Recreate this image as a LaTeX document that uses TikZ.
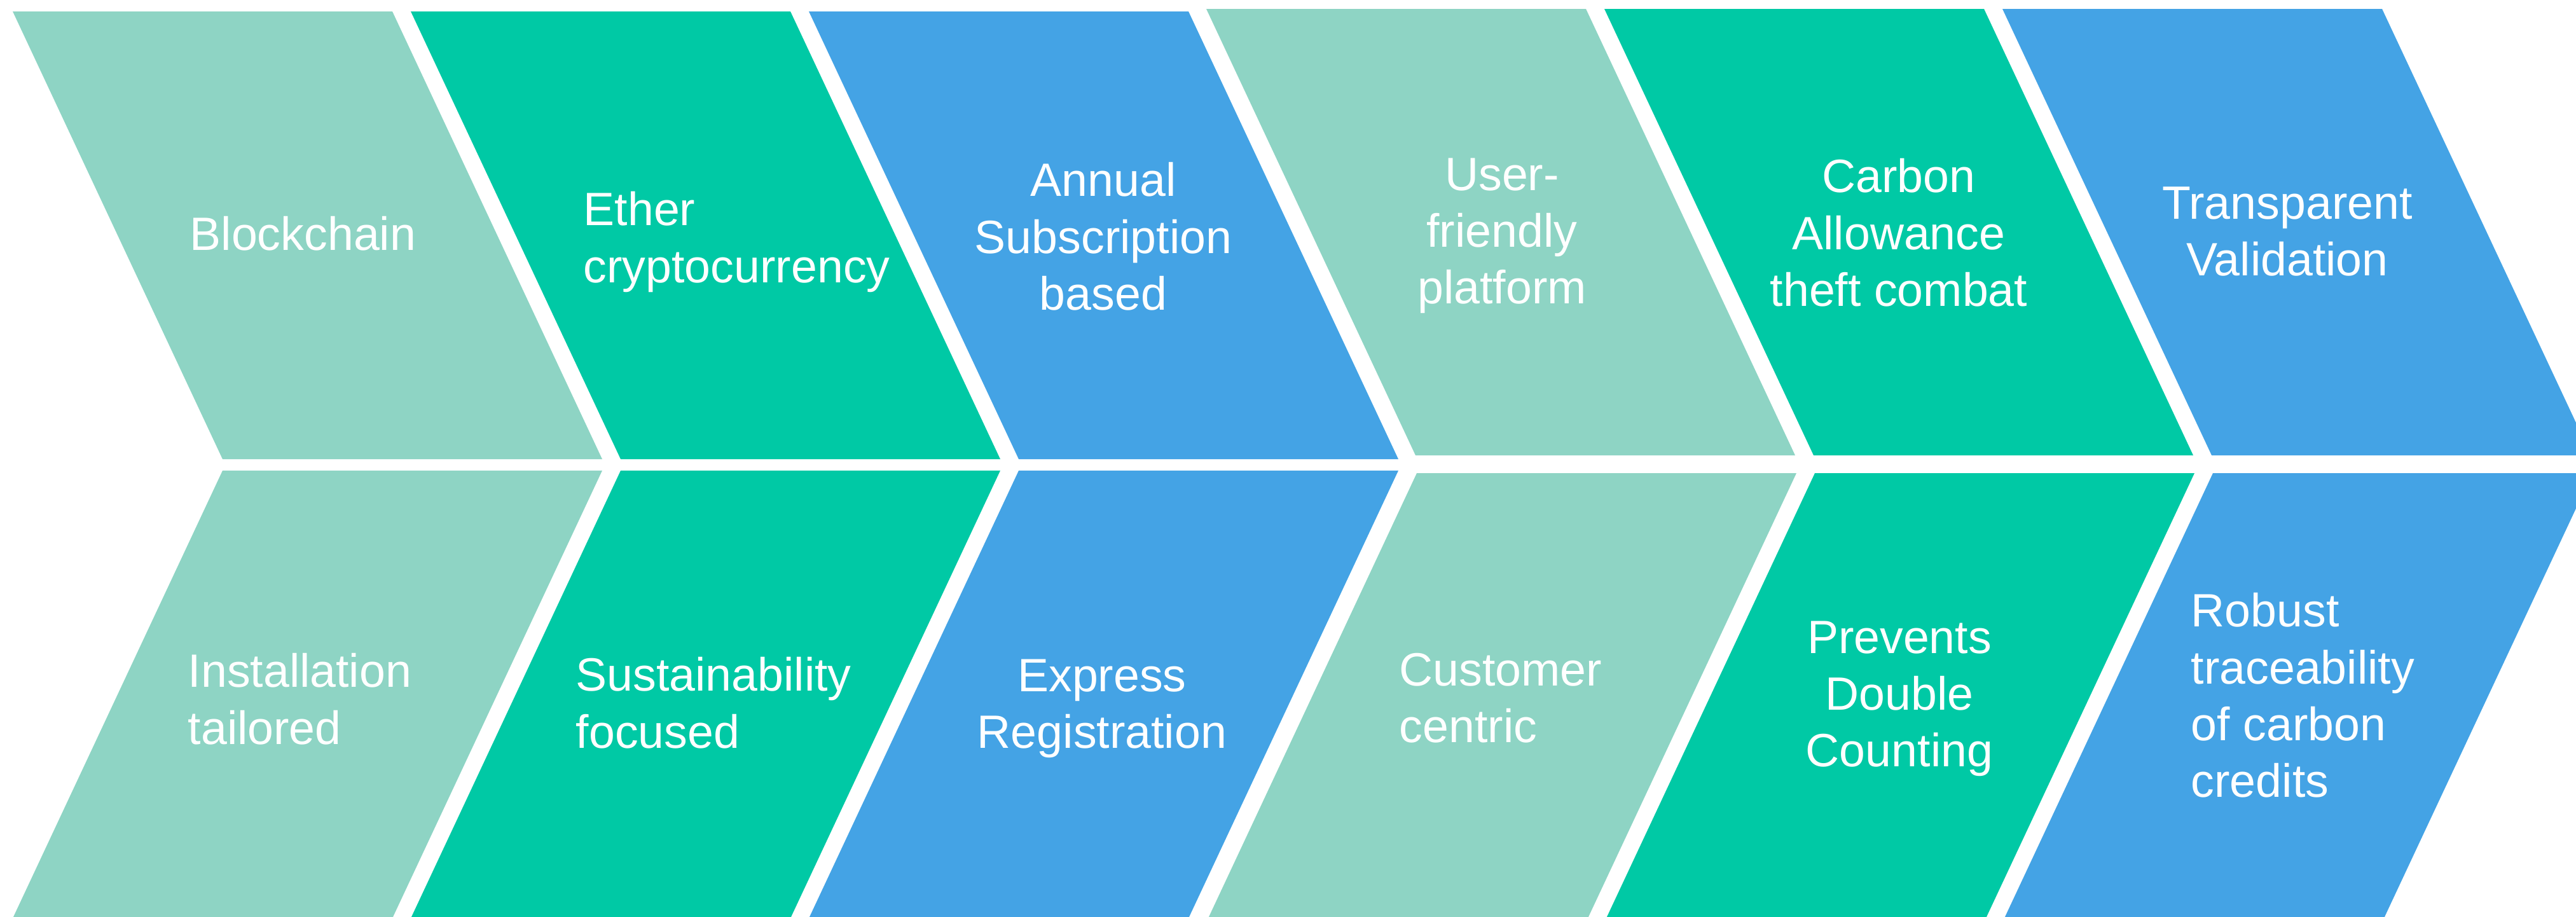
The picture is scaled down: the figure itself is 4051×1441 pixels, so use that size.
\documentclass[tikz,border=0pt]{standalone}
\usepackage{fontspec}
\setmainfont{Liberation Sans}

\definecolor{mint}{RGB}{142,212,196}
\definecolor{jade}{RGB}{0,201,165}
\definecolor{sky}{RGB}{68,163,229}

\begin{document}
\begin{tikzpicture}[x=0.01cm,y=-0.01cm,
		txt/.style={text=white,inner sep=0pt,font=\fontsize{20.9}{25.4}\selectfont}]

		\useasboundingbox (0,0) rectangle (4051,1441);
		\clip (0,0) rectangle (4051,1441);

		% upper row
		\fill[mint] (20,18) -- ++(597,0) -- ++(330,704) -- ++(-597,0) -- cycle;
		\fill[jade] (646,18) -- ++(597,0) -- ++(330,704) -- ++(-597,0) -- cycle;
		\fill[sky] (1272,18) -- ++(597,0) -- ++(330,704) -- ++(-597,0) -- cycle;
		\fill[mint] (1897,14) -- ++(597,0) -- ++(329,702) -- ++(-597,0) -- cycle;
		\fill[jade] (2523,14) -- ++(597,0) -- ++(329,702) -- ++(-597,0) -- cycle;
		\fill[sky] (3149,14) -- ++(597,0) -- ++(329,702) -- ++(-597,0) -- cycle;

		% lower row
		\fill[mint] (350,740) -- ++(597,0) -- ++(-330,704) -- ++(-597,0) -- cycle;
		\fill[jade] (976,740) -- ++(597,0) -- ++(-330,704) -- ++(-597,0) -- cycle;
		\fill[sky] (1602,740) -- ++(597,0) -- ++(-330,704) -- ++(-597,0) -- cycle;
		\fill[mint] (2228,744) -- ++(597,0) -- ++(-329,702) -- ++(-597,0) -- cycle;
		\fill[jade] (2854,744) -- ++(597,0) -- ++(-329,702) -- ++(-597,0) -- cycle;
		\fill[sky] (3480,744) -- ++(597,0) -- ++(-329,702) -- ++(-597,0) -- cycle;

		%% Labels %%
		% upper row
		\node[txt,anchor=north west,align=left] (blockchain) at (298,340) {Blockchain};
		\node[txt,anchor=north west,align=left] (ether) at (917,301) {Ether\\cryptocurrency};
		\node[txt,anchor=north,align=center] (annual) at (1735,255) {Annual\\Subscription\\based};
		\node[txt,anchor=north,align=center] (userfriendly) at (2362,248) {User-\\friendly\\platform};
		\node[txt,anchor=north,align=center] (theft) at (2986,249) {Carbon\\Allowance\\theft combat};
		\node[txt,anchor=north,align=center] (validation) at (3597,293) {Transparent\\Validation};

		% lower row
		\node[txt,anchor=north west,align=left] (installation) at (295,1027) {Installation\\tailored};
		\node[txt,anchor=north west,align=left] (sustainability) at (905,1033) {Sustainability\\focused};
		\node[txt,anchor=north,align=center] (express) at (1733,1036) {Express\\Registration};
		\node[txt,anchor=north west,align=left] (customer) at (2200,1026) {Customer\\centric};
		\node[txt,anchor=north,align=center] (doublecount) at (2987,976) {Prevents\\Double\\Counting};
		\node[txt,anchor=north west,align=left] (traceability) at (3445,932) {Robust\\traceability\\of carbon\\credits};

	\end{tikzpicture}
\end{document}
